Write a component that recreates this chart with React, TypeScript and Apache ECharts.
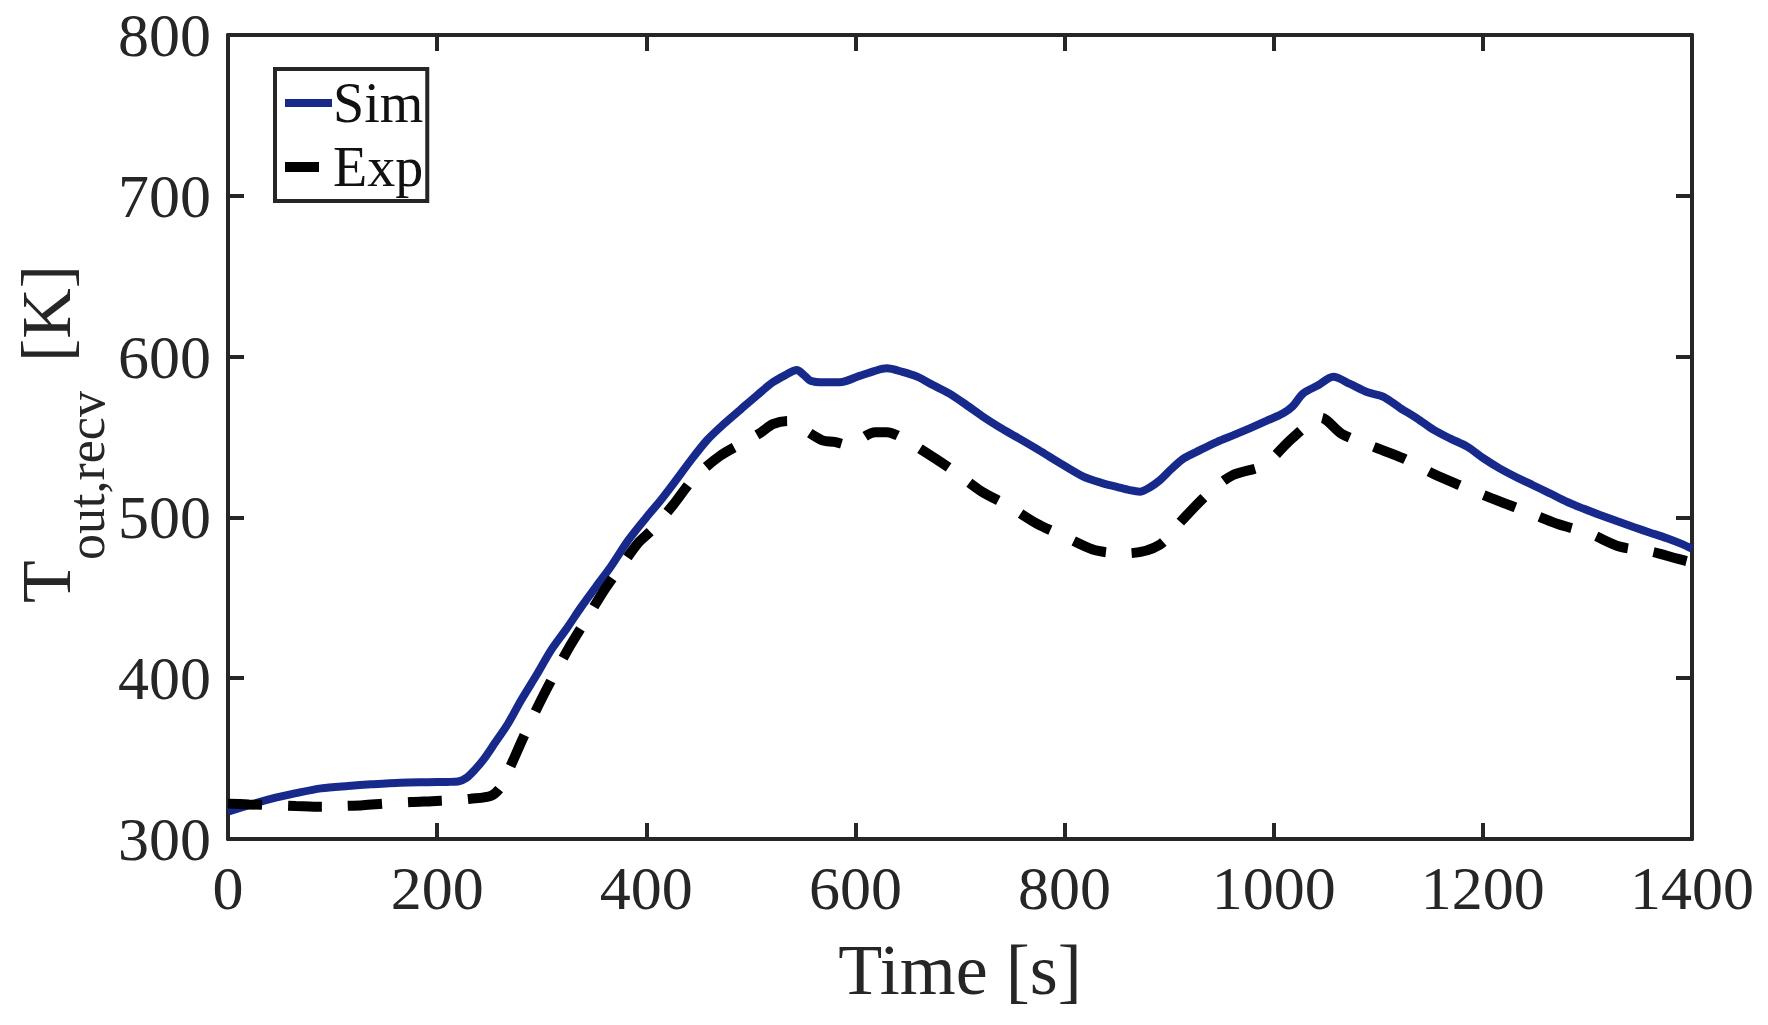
import { useEffect, useRef } from 'react';
import * as echarts from 'echarts';

const FONT = '"Liberation Serif", "Times New Roman", serif';
const INK = '#262626';
const SIM_COLOR = '#172a8c';

// 时间轴 [s] 与温度 [K]
const simTime = [
  0, 20, 41, 65, 89, 115, 137, 165, 191, 210, 220, 228, 236, 245, 255, 268, 280, 295, 309, 324,
  338, 352, 366, 383, 400, 413, 426, 442, 458, 474, 490, 506, 521, 533, 544, 550, 557, 570, 585,
  604, 618, 630, 645, 659, 675, 690, 706, 722, 738, 754, 775, 796, 818, 835, 850, 862, 872, 881,
  891, 902, 914, 930, 946, 961, 977, 993, 1009, 1018, 1028, 1042, 1057, 1073, 1089, 1105, 1121,
  1137, 1153, 1169, 1185, 1200, 1216, 1232, 1248, 1264, 1280, 1296, 1312, 1328, 1344, 1360, 1376,
  1390, 1400,
];
const simTemp = [
  317, 321, 325, 328.5, 331.5, 333, 334, 335, 335.3, 335.5, 335.8, 338, 343, 350, 359.5, 372, 386,
  402, 417.5, 431, 444.5, 457, 469.3, 486, 500, 510, 521, 535, 548, 558, 567, 576, 584, 588.5,
  591.7, 589, 585, 584, 584, 588, 591, 592.7, 590.5, 587.5, 582, 577, 570, 562.6, 556, 550, 542,
  533.6, 525.3, 521.5, 519, 517, 516, 518.5, 523, 530, 536.7, 542, 547, 551, 555.4, 560, 564.7,
  569, 577, 582, 587.5, 583, 578, 575, 568, 561.6, 554.4, 549, 544, 537, 530.5, 525, 520, 515,
  509.8, 505.5, 501.5, 497.7, 494, 490.5, 487, 483.5, 480.5,
];

const expTime = [
  0, 20, 43, 65, 89, 110, 129, 150, 175, 195, 212, 232, 252, 261, 270, 282, 296, 311, 327, 343,
  360, 378, 392, 405, 426, 445, 470, 494, 510, 521, 535, 544, 568, 580, 593, 619, 630, 643, 673,
  695, 721, 745, 773, 797, 827, 845, 861, 891, 912, 936, 960, 991, 1014, 1038, 1045, 1065, 1095,
  1124, 1153, 1178, 1208, 1242, 1271, 1302, 1331, 1361, 1385, 1400,
];
const expTemp = [
  322, 321.5, 321, 320.5, 320, 320.5, 321, 322, 323, 323.5, 324, 325, 327, 332.5, 345, 362.6, 382,
  401, 420, 437, 455, 471.5, 484, 492, 508, 524, 538, 547, 553, 558, 560, 557.5, 548, 547, 545, 553,
  553, 550, 538, 528.4, 516, 507.7, 496.3, 489, 480, 478, 477.7, 483, 498, 514, 526, 532.6, 547,
  560.5, 562, 552, 544, 536.7, 527, 520, 512, 503.5, 496, 490, 481.8, 478.7, 474.5, 472,
];

const EXP_DASH = [34, 26];

const App = () => {
  const chartRef = useRef<HTMLDivElement>(null);

  useEffect(() => {
    if (!chartRef.current) return;
    const chart = echarts.init(chartRef.current, null, { renderer: 'svg' });

    const axisLine = { show: true, onZero: false, lineStyle: { color: INK, width: 4 } };
    const axisTick = { show: true, inside: true, length: 16, lineStyle: { color: INK, width: 4 } };
    const plain = (v: number) => String(v);

    const option: echarts.EChartsOption = {
      animation: false,
      backgroundColor: '#fff',
      textStyle: { fontFamily: FONT },
      grid: { left: 228, top: 35, width: 1464, height: 804, containLabel: false },
      legend: {
        data: [
          { name: 'Sim', lineStyle: { color: SIM_COLOR, width: 8 } },
          { name: 'Exp', lineStyle: { color: '#000', width: 10, type: EXP_DASH as any, cap: 'butt' } },
        ] as any,
        orient: 'vertical',
        left: 275,
        top: 69,
        padding: [6, 4, 6, 5],
        itemGap: 8,
        itemWidth: 47,
        itemHeight: 2,
        itemStyle: { opacity: 0 },
        borderColor: INK,
        borderWidth: 4,
        backgroundColor: '#fff',
        textStyle: { fontSize: 56, color: '#111', fontFamily: FONT, padding: [0, 0, 0, -4] },
      },
      xAxis: [
        {
          type: 'value',
          min: 0,
          max: 1400,
          interval: 200,
          position: 'bottom',
          axisLine,
          axisTick,
          splitLine: { show: false },
          axisLabel: { fontSize: 62, color: INK, margin: 18, fontFamily: FONT, formatter: plain },
          name: 'Time [s]',
          nameLocation: 'middle',
          nameGap: 95,
          nameTextStyle: { fontSize: 72, color: INK, fontFamily: FONT },
        },
        {
          type: 'value',
          min: 0,
          max: 1400,
          interval: 200,
          position: 'top',
          axisLine,
          axisTick,
          splitLine: { show: false },
          axisLabel: { show: false },
        },
      ],
      yAxis: [
        {
          type: 'value',
          min: 300,
          max: 800,
          interval: 100,
          position: 'left',
          axisLine,
          axisTick,
          splitLine: { show: false },
          axisLabel: { fontSize: 62, color: INK, margin: 17, fontFamily: FONT, formatter: plain },
        },
        {
          type: 'value',
          min: 300,
          max: 800,
          interval: 100,
          position: 'right',
          axisLine,
          axisTick,
          splitLine: { show: false },
          axisLabel: { show: false },
        },
      ],
      // y 轴标题（带下标）
      graphic: [
        {
          type: 'text',
          x: 46,
          y: 603,
          rotation: Math.PI / 2,
          style: {
            text: 'T',
            font: `70px ${FONT}`,
            fill: INK,
            textAlign: 'left',
            textVerticalAlign: 'middle',
            align: 'left',
            verticalAlign: 'middle',
          } as any,
        },
        {
          type: 'text',
          x: 86,
          y: 560,
          rotation: Math.PI / 2,
          style: {
            text: 'out,recv',
            font: `52px ${FONT}`,
            fill: INK,
            textAlign: 'left',
            textVerticalAlign: 'middle',
            align: 'left',
            verticalAlign: 'middle',
          } as any,
        },
        {
          type: 'text',
          x: 46,
          y: 362,
          rotation: Math.PI / 2,
          style: {
            text: '[K]',
            font: `70px ${FONT}`,
            fill: INK,
            textAlign: 'left',
            textVerticalAlign: 'middle',
            align: 'left',
            verticalAlign: 'middle',
          } as any,
        },
      ],
      series: [
        {
          name: 'Sim',
          type: 'line',
          data: simTime.map((t, i) => [t, simTemp[i]]),
          symbol: 'none',
          smooth: 0.3,
          lineStyle: { color: SIM_COLOR, width: 8 },
          itemStyle: { color: SIM_COLOR },
          z: 3,
        },
        {
          name: 'Exp',
          type: 'line',
          data: expTime.map((t, i) => [t, expTemp[i]]),
          symbol: 'none',
          smooth: 0.3,
          lineStyle: { color: '#000', width: 10, type: EXP_DASH as any, cap: 'butt' },
          itemStyle: { color: '#000' },
          z: 4,
        },
      ],
    };

    chart.setOption(option);

    const handleResize = () => chart.resize();
    window.addEventListener('resize', handleResize);
    return () => {
      window.removeEventListener('resize', handleResize);
      chart.dispose();
    };
  }, []);

  return (
    <div
      ref={chartRef}
      style={{ position: 'absolute', left: 0, top: 0, width: 1768, height: 1025 }}
    />
  );
};

export default App;
